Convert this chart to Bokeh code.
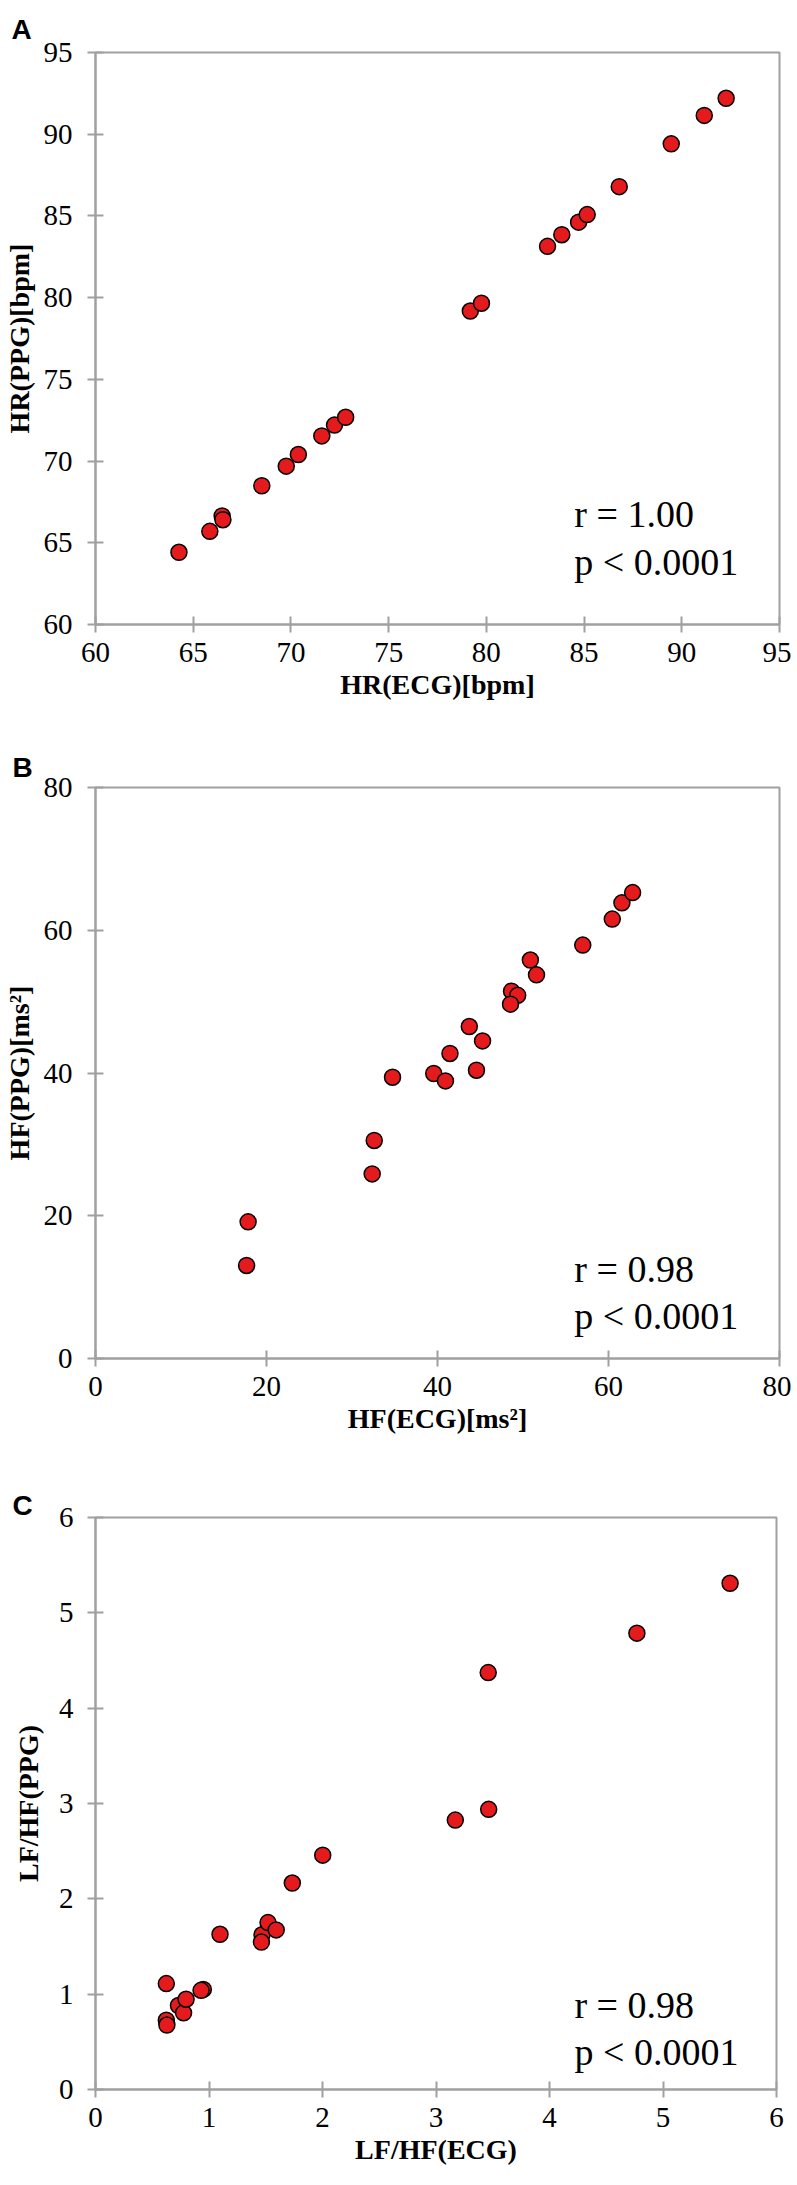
from bokeh.plotting import figure
from bokeh.models import Range1d, SingleIntervalTicker, Label
from bokeh.layouts import column
from bokeh.embed import file_html
from bokeh.resources import INLINE

# ---- Data ----
hr_ecg = [64.27, 65.85, 66.48, 66.52, 68.51, 69.76, 70.38, 71.58, 72.23, 72.80,
          79.18, 79.75, 83.13, 83.86, 84.72, 85.16, 86.80, 89.46, 91.15, 92.27]
hr_ppg = [64.42, 65.70, 66.64, 66.41, 68.49, 69.69, 70.40, 71.54, 72.20, 72.68,
          79.18, 79.66, 83.14, 83.85, 84.62, 85.08, 86.79, 89.41, 91.15, 92.20]

hf_ecg = [17.67, 17.85, 32.36, 32.60, 34.74, 39.56, 40.93, 41.46, 43.72, 44.56,
          45.27, 48.66, 49.38, 48.54, 50.86, 51.58, 56.99, 60.44, 61.57, 62.82]
hf_ppg = [13.03, 19.15, 25.86, 30.55, 39.41, 39.93, 38.89, 42.74, 46.51, 40.39,
          44.50, 51.47, 50.88, 49.64, 55.83, 53.75, 57.92, 61.56, 63.84, 65.28]

lfhf_ecg = [0.624, 0.624, 0.629, 0.731, 0.776, 0.798, 0.950, 0.930, 1.097, 1.467,
            1.462, 1.520, 1.592, 1.734, 2.002, 3.170, 3.464, 3.460, 4.770, 5.591]
lfhf_ppg = [1.111, 0.727, 0.676, 0.881, 0.804, 0.947, 1.050, 1.040, 1.628, 1.623,
            1.546, 1.751, 1.674, 2.166, 2.458, 2.826, 2.939, 4.373, 4.787, 5.310]

panel_letters = ["A", "B", "C"]
x_labels = ["HR(ECG)[bpm]", "HF(ECG)[ms\u00b2]", "LF/HF(ECG)"]
y_labels = ["HR(PPG)[bpm]", "HF(PPG)[ms\u00b2]", "LF/HF(PPG)"]
axis_ranges = [(60, 95), (0, 80), (0, 6)]
tick_steps = [5, 20, 1]
r_texts = ["r = 1.00", "r = 0.98", "r = 0.98"]
p_texts = ["p < 0.0001", "p < 0.0001", "p < 0.0001"]

AXIS_GRAY = "#a0a0a0"
RED = "#e41a1c"


def make_panel(letter, title_pos, xs, ys, rng, step, xlab, ylab, rtxt, ptxt,
               borders, frame, ystandoffs, stat_x, r_y, p_y):
    left, right, top, bottom = borders
    fw, fh = frame
    p = figure(frame_width=fw, frame_height=fh,
               x_range=Range1d(*rng), y_range=Range1d(*rng),
               output_backend="svg", toolbar_location=None,
               min_border_left=left, min_border_right=right,
               min_border_top=top, min_border_bottom=bottom,
               background_fill_color="white", border_fill_color="white")
    p.xgrid.visible = False
    p.ygrid.visible = False
    p.outline_line_color = AXIS_GRAY
    p.outline_line_width = 2
    p.outline_line_alpha = 1.0

    for ax in (p.xaxis[0], p.yaxis[0]):
        ax.ticker = SingleIntervalTicker(interval=step, num_minor_ticks=0)
        ax.axis_line_color = AXIS_GRAY
        ax.axis_line_width = 2
        ax.major_tick_line_color = AXIS_GRAY
        ax.major_tick_line_width = 2
        ax.major_tick_in = 8
        ax.major_tick_out = 8
        ax.minor_tick_line_color = None
        ax.major_label_text_font = "Liberation Serif"
        ax.major_label_text_font_size = "29px"
        ax.major_label_text_color = "black"
        ax.axis_label_text_font = "Liberation Serif"
        ax.axis_label_text_font_size = "28px"
        ax.axis_label_text_font_style = "bold"
        ax.axis_label_text_color = "black"
    p.xaxis.axis_label = xlab
    p.yaxis.axis_label = ylab
    p.xaxis.major_label_standoff = 10
    p.xaxis.axis_label_standoff = 4
    p.yaxis.major_label_standoff = ystandoffs[0]
    p.yaxis.axis_label_standoff = ystandoffs[1]
    p.yaxis.axis_label_text_line_height = 1.0

    # panel letter as the figure title
    p.title.text = letter
    p.title.text_font = "Liberation Sans"
    p.title.text_font_size = "28px"
    p.title.text_font_style = "bold"
    p.title.text_color = "black"
    p.title.align = "left"
    p.title.offset = title_pos[0]
    p.title.standoff = title_pos[1]

    p.scatter(xs, ys, size=16, fill_color=RED, line_color="black",
              line_width=1.5)

    for txt, yy in ((rtxt, r_y), (ptxt, p_y)):
        p.add_layout(Label(x=stat_x, y=yy, text=txt,
                           text_font="Liberation Serif",
                           text_font_size="38px", text_color="black",
                           text_baseline="alphabetic", text_align="left"))
    return p


pA = make_panel(panel_letters[0], (-84, 16), hr_ecg, hr_ppg,
                axis_ranges[0], tick_steps[0], x_labels[0], y_labels[0],
                r_texts[0], p_texts[0],
                (93, 12, 52, 117), (684, 572), (15, 6), 84.5, 66.75, 63.85)
pB = make_panel(panel_letters[1], (-83, 9), hf_ecg, hf_ppg,
                axis_ranges[1], tick_steps[1], x_labels[1], y_labels[1],
                r_texts[1], p_texts[1],
                (93, 12, 46, 119), (684, 571), (15, 6), 56.0, 12.5, 6.0)
pC = make_panel(panel_letters[2], (-83, -7), lfhf_ecg, lfhf_ppg,
                axis_ranges[2], tick_steps[2], x_labels[2], y_labels[2],
                r_texts[2], p_texts[2],
                (93, 15, 40, 92), (681, 572), (14, 12), 4.22, 0.888, 0.392)

layout = column(pA, pB, pC, spacing=0)
open("out.html", "w").write(file_html(layout, INLINE))
